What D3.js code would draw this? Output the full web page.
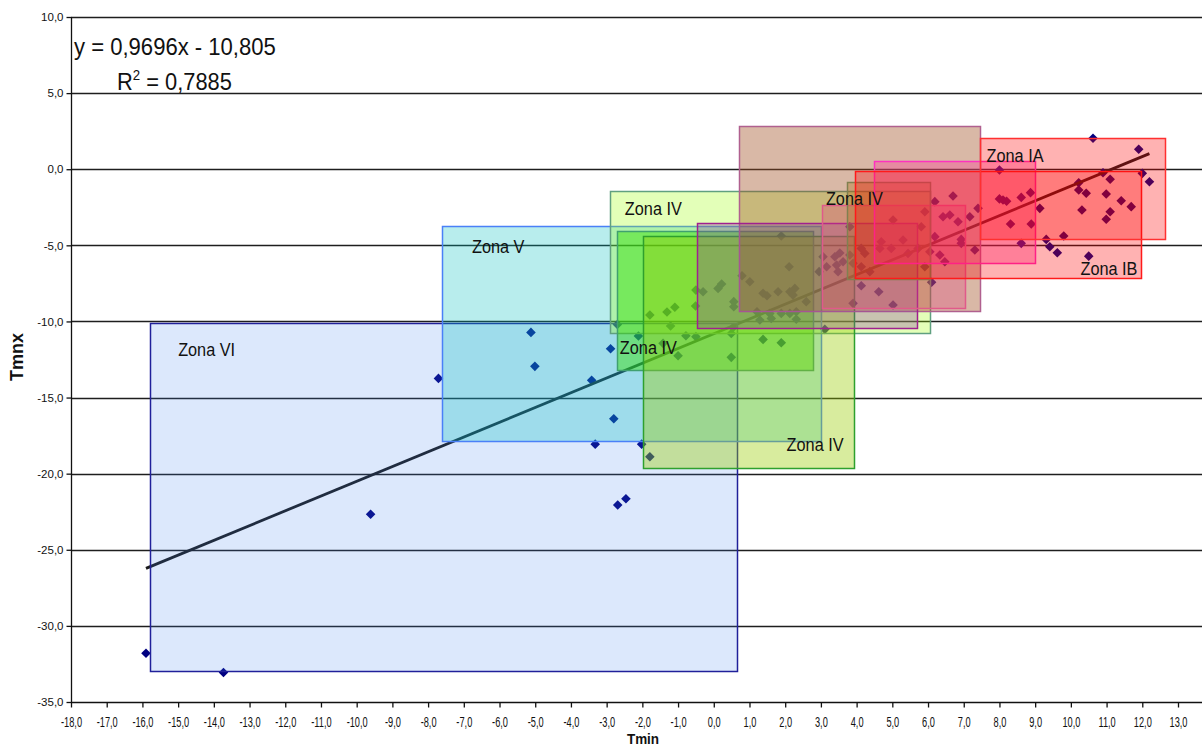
<!DOCTYPE html>
<html>
<head>
<meta charset="utf-8">
<script src="https://cdn.jsdelivr.net/npm/d3@7/dist/d3.min.js"></script>
<style>
  body { margin: 0; background: #fff; }
  svg { display: block; }
  text { font-family: "Liberation Sans", Arial, sans-serif; fill: #111; }
</style>
</head>
<body>
<svg id="chart" width="1202" height="747"></svg>
<script>
// Observations: minimum temperature (Tmin) vs. Tmnx
const tmin = [
  -15.9, -13.73, -9.61, -7.71, -5.12, -5.01, -3.42, -2.89, -2.80, -3.32, -2.02, -1.79, -2.69, -2.46, -2.11, -2.70,
  -1.79, -1.31, -1.09, -1.21, -1.42, -1.00, -0.78, -0.50, -0.50, -0.30, -0.51, 0.12, 0.22, 0.56, 0.56, 0.49, 0.49,
  1.89, 0.79, 1.01, 1.38, 1.49, 1.80, 2.13, 2.27, 2.22, 2.11, 2.59, 1.21, 1.57, 1.89, 2.13, 2.31, 2.31, 1.61, 1.29,
  1.38, 1.89, 3.11, 0.54,
  3.06, 3.39, 3.62, 3.44, 3.16, 3.48, 2.95, 3.81, 3.81, 3.90, 4.13, 4.23, 4.13, 4.37, 4.69, 4.65, 4.97, 5.02, 4.13,
  4.62, 5.02, 3.90, 3.53,
  8.00, 8.00, 8.10, 8.20, 8.61, 8.87, 8.89, 8.31, 9.13, 8.61, 6.70, 6.19, 5.91, 6.61, 6.42, 7.17, 7.40, 6.84, 5.81,
  6.19, 6.93, 5.72, 6.05, 6.33, 6.47, 5.91, 7.31, 6.93, 5.30, 5.44, 6.10,
  10.62, 11.90, 12.00, 12.20, 10.90, 11.10, 10.22, 10.22, 10.43, 10.99, 11.41, 11.69, 11.10, 10.99, 10.31, 9.80,
  9.31, 9.41, 9.62, 10.50
];
const tmnx = [
  -31.8, -33.06, -22.67, -13.74, -10.72, -12.95, -13.87, -11.79, -16.39, -18.06, -18.06, -18.89, -22.06, -21.65, -10.96, -10.20,
  -9.58, -9.38, -9.07, -10.30, -11.44, -12.25, -10.94, -11.00, -7.94, -8.05, -8.99, -7.83, -7.54, -8.70, -9.03, -10.79, -12.36,
  -4.39, -7.00, -7.39, -8.15, -8.31, -8.05, -8.05, -7.83, -8.27, -6.41, -8.70, -9.36, -9.47, -9.47, -9.47, -9.36, -9.86, -9.80, -9.91,
  -11.18, -11.40, -10.52, -10.40,
  -5.75, -5.75, -6.08, -6.30, -6.41, -6.73, -6.73, -3.78, -5.64, -6.18, -5.20, -5.53, -6.41, -6.73, -4.76, -5.20, -5.20, -3.34, -7.65,
  -8.05, -8.92, -8.81, -5.50,
  -0.05, -1.95, -2.02, -2.10, -1.85, -1.54, -3.60, -3.60, -2.57, -4.87, -1.76, -2.13, -2.79, -3.01, -3.12, -3.12, -2.57, -3.45, -3.78,
  -4.43, -4.61, -5.20, -5.42, -5.64, -6.08, -6.41, -5.31, -4.87, -4.65, -5.53, -7.43,
  2.03, 1.31, -0.27, -0.82, -0.23, -0.66, -0.89, -1.37, -1.58, -1.63, -2.07, -2.46, -2.79, -3.29, -2.68, -4.39,
  -4.61, -5.09, -5.49, -5.71
];

// Linear trend reported for the series
const trendSlope = 0.9696;
const trendIntercept = -10.805;
const trendR2 = 0.7885;

// Climatic zones: ranges of Tmin (x) and Tmnx (y)
const zoneNames = ["Zona VI", "Zona V", "Zona IV", "Zona IV", "Zona IV", "", "", "", "Zona IV", "", "Zona IB", "Zona IA"];
const zoneTminLow  = [-15.8, -7.6, -2.9, -2.7, -1.97, 0.7, -0.48, 3.04, 3.74, 4.5, 3.95, 7.45];
const zoneTminHigh = [0.64, 3.02, 6.06, 2.8, 3.95, 7.45, 5.69, 7.04, 6.06, 9.0, 11.95, 12.62];
const zoneTmnxLow  = [-32.96, -17.86, -10.72, -13.14, -19.6, -9.3, -10.37, -9.1, -7.16, -6.14, -7.18, -4.59];
const zoneTmnxHigh = [-10.1, -3.71, -1.4, -4.03, -4.39, 2.86, -3.5, -2.35, -0.82, 0.54, -0.14, 2.07];

// Axis ticks
const xTicks = d3.range(-18, 14, 1);
const yTicks = d3.range(-35, 11, 5);

// ---- styling for zones
const zoneFill    = ["#3d7ff0", "#00c0c0", "#99ff00", "#33dd00", "#99cc00", "#a04e21", "#8c3ca0", "#e0407a", "#b0701a", "#ff3399", "#ff0000", "#ff0000"];
const zoneOpacity = [0.18, 0.28, 0.28, 0.45, 0.38, 0.4, 0.3, 0.3, 0.35, 0.35, 0.3, 0.3];
const zoneStroke  = ["#20209a", "#4a80f8", "#60a080", "#40a070", "#2ea02e", "#b0608f", "#a0208f", "#e05a8a", "#808050", "#ff30c0", "#ff1a1a", "#ff3030"];
// label anchors (left, baseline) in data units
const labelTmin = [-15.0, -6.77, -2.49, -2.63, 2.04, null, null, null, 3.14, null, 10.27, 7.64];
const labelTmnx = [-12.27, -5.5, -3.01, -12.14, -18.52, null, null, null, -2.35, null, -6.95, 0.47];

(function draw() {
  const W = 1202;
  const svg = d3.select("#chart");
  const plotLeft = 71, plotRight = W, plotTop = 17, plotBottom = 702;

  const x = d3.scaleLinear().domain([-18, 13]).range([plotLeft, 1178]);
  const y = d3.scaleLinear().domain([-35, 10]).range([plotBottom, plotTop]);

  const loc = d3.formatLocale({ decimal: ",", thousands: ".", grouping: [3], currency: ["", ""], minus: "-" });
  const fmt = loc.format(".1f");
  const crisp = v => Math.round(v) + 0.5;

  // horizontal gridlines
  svg.append("g")
    .selectAll("line")
    .data(yTicks.filter(v => v > -35))
    .join("line")
    .attr("x1", plotLeft).attr("x2", plotRight)
    .attr("y1", d => crisp(y(d))).attr("y2", d => crisp(y(d)))
    .attr("stroke", "#1e1e1e").attr("stroke-width", 1.3);

  // data points (diamonds)
  svg.append("g")
    .selectAll("path")
    .data(d3.range(tmin.length))
    .join("path")
    .attr("transform", i => `translate(${x(tmin[i])},${y(tmnx[i])}) rotate(45)`)
    .attr("d", d3.symbol(d3.symbolSquare, 46))
    .attr("fill", "#000080");

  // trend line over the data range
  const [xa, xb] = d3.extent(tmin);
  svg.append("line")
    .attr("x1", x(xa)).attr("y1", y(trendSlope * xa + trendIntercept))
    .attr("x2", x(xb)).attr("y2", y(trendSlope * xb + trendIntercept))
    .attr("stroke", "#1a1a1a").attr("stroke-width", 2.8);

  // zone rectangles, translucent on top of the data
  const zg = svg.append("g");
  zoneNames.forEach((name, i) => {
    const x0 = x(zoneTminLow[i]), x1 = x(zoneTminHigh[i]);
    const y0 = y(zoneTmnxHigh[i]), y1 = y(zoneTmnxLow[i]);
    zg.append("rect")
      .attr("x", Math.round(x0) + 0.5).attr("y", Math.round(y0) + 0.5)
      .attr("width", Math.round(x1 - x0)).attr("height", Math.round(y1 - y0))
      .attr("fill", zoneFill[i]).attr("fill-opacity", zoneOpacity[i])
      .attr("stroke", zoneStroke[i]).attr("stroke-width", 1.5);
  });

  // zone labels
  zoneNames.forEach((name, i) => {
    if (!name) return;
    svg.append("text")
      .attr("transform", `translate(${x(labelTmin[i])},${y(labelTmnx[i])}) scale(0.88,1)`)
      .attr("font-size", 18.5)
      .attr("fill", "#161616")
      .text(name);
  });

  // axes
  svg.append("line").attr("x1", plotLeft).attr("x2", plotRight).attr("y1", crisp(plotBottom)).attr("y2", crisp(plotBottom))
    .attr("stroke", "#111").attr("stroke-width", 1.3);
  svg.append("line").attr("x1", crisp(plotLeft)).attr("x2", crisp(plotLeft)).attr("y1", plotTop).attr("y2", plotBottom)
    .attr("stroke", "#111").attr("stroke-width", 1.3);

  const gx = svg.append("g").attr("transform", `translate(0,${crisp(plotBottom)})`)
    .call(d3.axisBottom(x).tickValues(xTicks).tickSize(5).tickSizeOuter(0).tickFormat(fmt));
  gx.select(".domain").remove();
  gx.selectAll(".tick line").attr("stroke", "#111").attr("stroke-width", 1.3);
  gx.selectAll(".tick text")
    .attr("y", 25).attr("dy", 0)
    .attr("transform", "scale(0.66,1)")
    .attr("font-size", 14).attr("font-family", "Liberation Sans, Arial, sans-serif")
    .attr("fill", "#111");

  const gy = svg.append("g").attr("transform", `translate(${crisp(plotLeft)},0)`)
    .call(d3.axisLeft(y).tickValues(yTicks).tickSize(5).tickSizeOuter(0).tickFormat(fmt));
  gy.select(".domain").remove();
  gy.selectAll(".tick line").attr("stroke", "#111").attr("stroke-width", 1.3);
  gy.selectAll(".tick text")
    .attr("x", -8)
    .attr("font-size", 11.5).attr("font-family", "Liberation Sans, Arial, sans-serif")
    .attr("fill", "#111");

  // axis titles
  svg.append("text")
    .attr("transform", "translate(643,744) scale(0.9,1)")
    .attr("text-anchor", "middle")
    .attr("font-size", 15).attr("font-weight", "bold")
    .text("Tmin");
  svg.append("text")
    .attr("transform", "translate(23,357) rotate(-90)")
    .attr("text-anchor", "middle")
    .attr("font-size", 18).attr("font-weight", "bold")
    .text("Tmnx");

  // trend equation
  const nf = loc.format(".4f");
  const nf3 = loc.format(".3f");
  svg.append("text")
    .attr("transform", "translate(74,55) scale(0.96,1)")
    .attr("font-size", 23)
    .text(`y = ${nf(trendSlope)}x - ${nf3(Math.abs(trendIntercept))}`);
  const r2 = svg.append("text")
    .attr("transform", "translate(117,90) scale(0.95,1)")
    .attr("font-size", 23);
  r2.append("tspan").text("R");
  r2.append("tspan").attr("font-size", 14).attr("dy", -10).text("2");
  r2.append("tspan").attr("dy", 10).text(` = ${nf(trendR2)}`);
})();
</script>
</body>
</html>
